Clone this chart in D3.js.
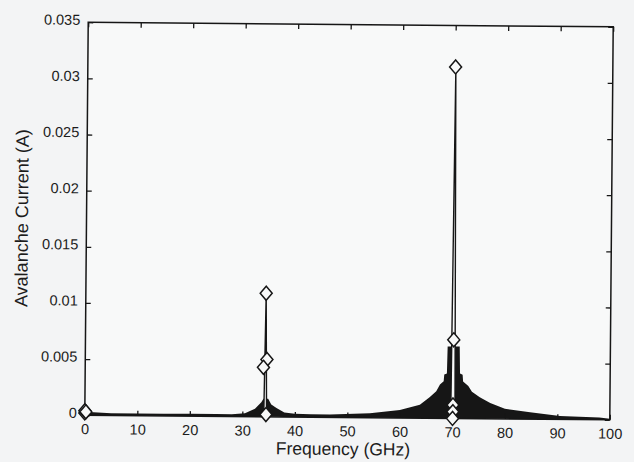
<!DOCTYPE html>
<html><head><meta charset="utf-8">
<script src="https://cdn.jsdelivr.net/npm/d3@7"></script>
<style>html,body{margin:0;padding:0;background:#f3f4f5;} svg{display:block}</style>
</head><body><svg id="c" width="634" height="462"></svg>
<script>
const xTickValues = [0,10,20,30,40,50,60,70,80,90,100];
const yTickValues = [0,0.005,0.01,0.015,0.02,0.025,0.03,0.035];
const yTickLabels = ["0","0.005","0.01","0.015","0.02","0.025","0.03","0.035"];

// upper envelope of the dense spectrum trace (GHz, A)
const envFreq = [0,5,10,15,20,25,28,30.5,32.4,33.6,34.0,34.9,35.5,36.5,38,40,43,46.7,54.3,60,63.8,65.7,66.9,67.6,68.3,68.4,68.9,69.0,71.3,71.4,71.9,72.0,73.0,73.7,75.2,77.2,80,84.8,90.5,98,100];
const envAmp  = [0.0003,0.0002,0.0002,0.0002,0.0002,0.0002,0.0002,0.0003,0.0007,0.0013,0.0016,0.0016,0.0011,0.0008,0.0004,0.0003,0.00025,0.00026,0.0004,0.0007,0.0012,0.0019,0.0024,0.0030,0.0033,0.0039,0.0040,0.0064,0.0064,0.0040,0.0039,0.0033,0.0029,0.0024,0.0019,0.0014,0.0009,0.0006,0.0003,0.0002,0.0001];

// spectral lines
const spike35Freq = [34.1, 34.35, 34.6];
const spike35Amp  = [0.0008, 0.0110, 0.0008];
const spike70Freq = [69.7, 70.1, 70.5];
const spike70Amp  = [0.0008, 0.0313, 0.0008];

// diamond markers
const markerFreq = [0, 0, 0.2, 34.35, 34.6, 33.95, 34.5, 70.05, 70.15, 70.1, 70.1, 70.05];
const markerAmp  = [0.0002, 0.0004, 0.0003, 0.0110, 0.0051, 0.0044, 0.0002, 0.0313, 0.0070, 0.0012, 0.0006, 0.0000];

const L = 86.5, R = 611.5, T = 24.5, B = 417.5;
const ink = "#161616";
const paper = "#f8f9f9";
const font = "'Liberation Sans', Arial, Helvetica, sans-serif";

const svg = d3.select("#c");
const g = svg.append("g").attr("transform", "rotate(0.5, 349, 221)");

const x = d3.scaleLinear().domain([0,100]).range([L,R]);
const y = d3.scaleLinear().domain([0,0.035]).range([B,T]);

g.append("rect").attr("x",L).attr("y",T).attr("width",R-L).attr("height",B-T).attr("fill",paper);

g.append("clipPath").attr("id","clip").append("rect").attr("x",L).attr("y",T-10).attr("width",R-L).attr("height",B-T+10);
const plot = g.append("g").attr("clip-path","url(#clip)");

const envData = envFreq.map((f,i)=>[f, envAmp[i]]);
plot.append("path").datum(envData)
  .attr("d", d3.area().x(d=>x(d[0])).y0(y(0)).y1(d=>y(d[1])).curve(d3.curveLinear))
  .attr("fill", ink);

function spike(fr, am){
  const data = fr.map((f,i)=>[f, am[i]]);
  plot.append("path").datum(data)
    .attr("d", d3.line().x(d=>x(d[0])).y(d=>y(d[1])))
    .attr("fill",paper).attr("stroke",ink).attr("stroke-width",1.4).attr("stroke-linejoin","round");
}
spike(spike35Freq, spike35Amp);
spike(spike70Freq, spike70Amp);

// axes box
const ax = g.append("g");
ax.append("rect").attr("x",L).attr("y",T).attr("width",R-L).attr("height",B-T)
  .attr("fill","none").attr("stroke",ink).attr("stroke-width",1.5);

const xb = ax.append("g").attr("transform",`translate(0,${B})`)
  .call(d3.axisBottom(x).tickValues(xTickValues).tickSize(-5).tickFormat(d3.format("d")).tickPadding(8));
const xt = ax.append("g").attr("transform",`translate(0,${T})`)
  .call(d3.axisTop(x).tickValues(xTickValues).tickSize(-5).tickFormat(""));
const yl = ax.append("g").attr("transform",`translate(${L},0)`)
  .call(d3.axisLeft(y).tickValues(yTickValues).tickSize(-5).tickFormat((d,i)=>yTickLabels[i]).tickPadding(8));
const yr = ax.append("g").attr("transform",`translate(${R},0)`)
  .call(d3.axisRight(y).tickValues(yTickValues).tickSize(-5).tickFormat(""));
[xb,xt,yl,yr].forEach(a=>{
  a.select(".domain").remove();
  a.selectAll(".tick line").attr("stroke",ink).attr("stroke-width",1.3);
  a.selectAll("text").attr("fill","#1c1c1c").style("font-family",font).style("font-size","14.5px");
});
yl.selectAll("text").attr("dy","0.15em");
xb.selectAll("text").attr("dy","0.75em");

// markers (not clipped, like the reference)
const diamond = "M0,-7L6,0L0,7L-6,0Z";
g.selectAll(".mk").data(markerFreq.map((f,i)=>[f, markerAmp[i]])).enter()
  .append("path").attr("class","mk")
  .attr("d", diamond)
  .attr("transform", d=>`translate(${x(d[0])},${y(d[1])})`)
  .attr("fill",paper).attr("stroke",ink).attr("stroke-width",1.5);

// labels
g.append("text").attr("x",(L+R)/2 - 4).attr("y",455).attr("text-anchor","middle")
  .style("font-family",font).style("font-size","17.5px").attr("fill","#1c1c1c")
  .text("Frequency (GHz)");
g.append("text").attr("transform",`translate(28,${(T+B)/2}) rotate(-90)`).attr("text-anchor","middle")
  .style("font-family",font).style("font-size","18px").attr("fill","#1c1c1c")
  .text("Avalanche Current (A)");
</script></body></html>
